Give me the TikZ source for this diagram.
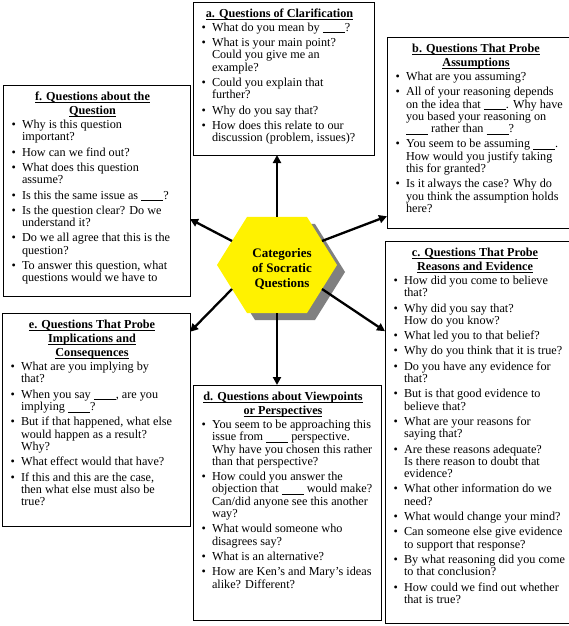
\documentclass[tikz,border=0pt]{standalone}
\usepackage{fontspec}
\setmainfont{Liberation Serif}
\usetikzlibrary{shapes, arrows.meta, positioning,
                shapes.geometric, shadows
                }

\newcommand{\qblank}{\rule[-1.6pt]{22pt}{0.6pt}}
\newcommand{\qhead}[1]{\leavevmode\setbox0=\hbox{#1}\rlap{\rule[-2.2pt]{\wd0}{0.7pt}}\box0}
\newcommand{\qtitle}[1]{\vspace*{7pt}{\centering\fontsize{12.2}{14.2}\selectfont\bfseries #1\par}}
\newenvironment{qlist}{\raggedright\fontsize{12.2}{12.3}\selectfont
  \begin{list}{\textbullet}{\setlength{\leftmargin}{19pt}\setlength{\labelwidth}{10pt}%
    \setlength{\labelsep}{6pt}\setlength{\itemsep}{3pt}\setlength{\parsep}{0pt}%
    \setlength{\topsep}{1.5pt}\setlength{\partopsep}{0pt}\setlength{\rightmargin}{-8pt}}}
  {\end{list}}

\begin{document}
\begin{tikzpicture}[x=1pt, y=-1pt,
 	qbox/.style={draw, line width=0.8pt, fill=white, inner sep=0pt, outer sep=0pt, anchor=north west,
 	  drop shadow={shadow xshift=1.2pt, shadow yshift=-1.2pt, fill=black!60, opacity=1}},
 	hexa/.style={regular polygon, regular polygon sides=6, minimum size=120pt, inner sep=0pt, outer sep=0pt,
 	  fill=yellow, transform shape, drop shadow={shadow xshift=8pt, shadow yshift=-7pt, fill=black!50, opacity=1}},
 	conn/.style={line width=2.3pt, -{Triangle[length=8pt, width=8pt]}}]
 	\useasboundingbox (0,0) rectangle (568,626);

 	\begin{scope}[shift={(277,265)}, yscale=0.924]
 	\node[hexa] (hub) at (0,0) {};
 	\end{scope}
 	\node[font=\fontsize{13}{15.3}\selectfont\bfseries, align=center] (hubtext) at (282,269) {Categories\\of Socratic\\Questions};

 	\node[qbox] (boxa) at (193,2) {\parbox[c][153pt][t]{173pt}{\qtitle{\qhead{a. Questions of Clarification}}
 	\begin{qlist}
 	\item What do you mean by \qblank?
 	\item What is your main point?\\ Could you give me an\\ example?
 	\item Could you explain that\\ further?
 	\item Why do you say that?
 	\item How does this relate to our\\ discussion (problem, issues)?
 	\end{qlist}}};

 	\node[qbox] (boxb) at (387,37) {\parbox[c][191pt][t]{178pt}{\qtitle{\qhead{b. Questions That Probe}\\ \qhead{Assumptions}}
 	\begin{qlist}
 	\item What are you assuming?
 	\item All of your reasoning depends\\ on the idea that \qblank. Why have\\ you based your reasoning on\\ \qblank{} rather than \qblank?
 	\item You seem to be assuming \qblank.\\ How would you justify taking\\ this for granted?
 	\item Is it always the case? Why do\\ you think the assumption holds\\ here?
 	\end{qlist}}};

 	\node[qbox] (boxc) at (385,241) {\parbox[c][382pt][t]{180pt}{\qtitle{\qhead{c. Questions That Probe}\\ \qhead{Reasons and Evidence}}
 	\begin{qlist}
 	\item How did you come to believe\\ that?
 	\item Why did you say that?\\ How do you know?
 	\item What led you to that belief?
 	\item Why do you think that it is true?
 	\item Do you have any evidence for\\ that?
 	\item But is that good evidence to\\ believe that?
 	\item What are your reasons for\\ saying that?
 	\item Are these reasons adequate?\\ Is there reason to doubt that\\ evidence?
 	\item What other information do we\\ need?
 	\item What would change your mind?
 	\item Can someone else give evidence\\ to support that response?
 	\item By what reasoning did you come\\ to that conclusion?
 	\item How could we find out whether\\ that is true?
 	\end{qlist}}};

 	\node[qbox] (boxd) at (193,385) {\parbox[c][235pt][t]{180pt}{\qtitle{\qhead{d. Questions about Viewpoints}\\ \qhead{or Perspectives}}
 	\begin{qlist}
 	\item You seem to be approaching this\\ issue from \qblank{} perspective.\\ Why have you chosen this rather\\ than that perspective?
 	\item How could you answer the\\ objection that \qblank{} would make?\\ Can/did anyone see this another\\ way?
 	\item What would someone who\\ disagrees say?
 	\item What is an alternative?
 	\item How are Ken's and Mary's ideas\\ alike? Different?
 	\end{qlist}}};

 	\node[qbox] (boxe) at (2,313) {\parbox[c][213pt][t]{180pt}{\qtitle{\qhead{e. Questions That Probe}\\ \qhead{Implications and}\\ \qhead{Consequences}}
 	\begin{qlist}
 	\item What are you implying by\\ that?
 	\item When you say \qblank, are you\\ implying \qblank?
 	\item But if that happened, what else\\ would happen as a result?\\ Why?
 	\item What effect would that have?
 	\item If this and this are the case,\\ then what else must also be\\ true?
 	\end{qlist}}};

 	\node[qbox] (boxf) at (3,85) {\parbox[c][211pt][t]{179pt}{\qtitle{\qhead{f. Questions about the}\\ \qhead{Question}}
 	\begin{qlist}
 	\item Why is this question\\ important?
 	\item How can we find out?
 	\item What does this question\\ assume?
 	\item Is this the same issue as \qblank?
 	\item Is the question clear? Do we\\ understand it?
 	\item Do we all agree that this is the\\ question?
 	\item To answer this question, what\\ questions would we have to
 	\end{qlist}}};

 	\draw[conn] (hub.north) -- (hub.north |- boxa.south);
 	\draw[conn] (hub.30) -- (boxb.222.9);
 	\draw[conn] (hub.-30) -- (boxc.133.4);
 	\draw[conn] (hub.south) -- (hub.south |- boxd.north);
 	\draw[conn] (hub.210) -- (boxe.43.2);
 	\draw[conn] (hub.150) -- (boxf.343.3);
\end{tikzpicture}
\end{document}
